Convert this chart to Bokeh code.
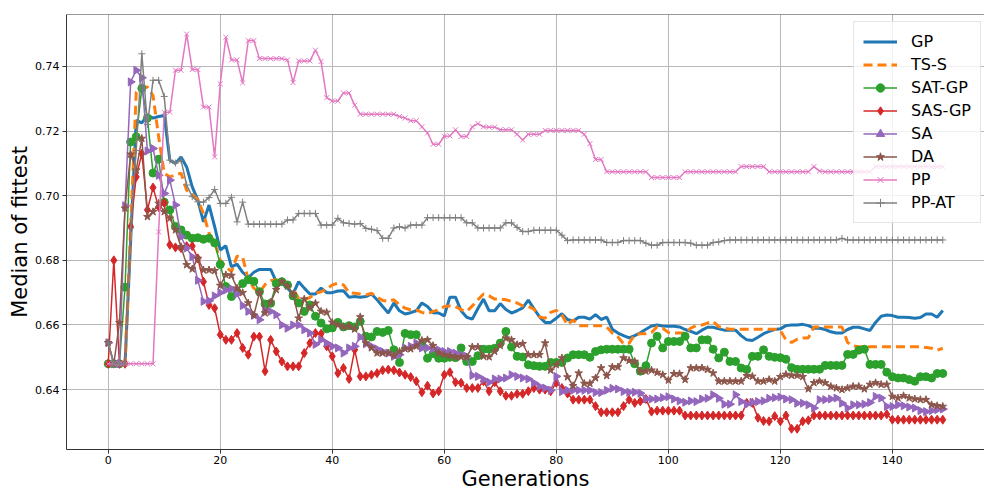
import math
from bokeh.plotting import figure
from bokeh.models import Legend, LegendItem, Span, FixedTicker, NumeralTickFormatter, Range1d
from bokeh.embed import file_html
from bokeh.resources import INLINE

generations = list(range(150))

gp = [0.648, 0.648, 0.648, 0.648, 0.686, 0.7233, 0.7225, 0.7249, 0.7240, 0.7245,
      0.7248, 0.7110, 0.7100, 0.7120, 0.7089, 0.7027, 0.6986, 0.6919, 0.6971, 0.6904,
      0.6832, 0.6845, 0.6780, 0.6788, 0.6763, 0.6746, 0.6763, 0.6772, 0.6772, 0.6772,
      0.6734, 0.6730, 0.6714, 0.6696, 0.6734, 0.6714, 0.6696, 0.6696, 0.6714, 0.6700,
      0.6700, 0.6705, 0.6706, 0.6686, 0.6688, 0.6686, 0.6688, 0.6696, 0.6678, 0.6657,
      0.6637, 0.6668, 0.6644, 0.6634, 0.6638, 0.6644, 0.6668, 0.6657, 0.6638, 0.6637,
      0.6628, 0.6686, 0.6686, 0.6644, 0.6624, 0.6618, 0.6651, 0.6680, 0.6644, 0.6644,
      0.6666, 0.6648, 0.6637, 0.6644, 0.6653, 0.6677, 0.6651, 0.6625, 0.6608, 0.6608,
      0.6621, 0.6635, 0.6617, 0.6612, 0.6624, 0.6624, 0.6618, 0.6632, 0.6617, 0.6624,
      0.6587, 0.6575, 0.6567, 0.6560, 0.6567, 0.6576, 0.6587, 0.6597, 0.6600, 0.6597,
      0.6596, 0.6596, 0.6594, 0.6586, 0.6580, 0.6573, 0.6584, 0.6593, 0.6593, 0.6588,
      0.6584, 0.6584, 0.6584, 0.6567, 0.6554, 0.6552, 0.6562, 0.6573, 0.6580, 0.6586,
      0.6588, 0.6598, 0.6600, 0.6600, 0.6602, 0.6598, 0.6590, 0.6590, 0.6586, 0.6579,
      0.6575, 0.6575, 0.6586, 0.6593, 0.6593, 0.6588, 0.6583, 0.6608, 0.6627, 0.6631,
      0.6629, 0.6624, 0.6624, 0.6623, 0.6621, 0.6623, 0.6634, 0.6634, 0.6624, 0.6645]

ts_s = [0.648, 0.648, 0.648, 0.648, 0.690, 0.7320, 0.7336, 0.7336, 0.7310, 0.7182,
        0.7069, 0.7058, 0.7064, 0.7070, 0.7017, 0.7005, 0.6988, 0.6945, 0.6884, 0.6855,
        0.6800, 0.6780, 0.6765, 0.6813, 0.6810, 0.6740, 0.6714, 0.6700, 0.6725, 0.6737,
        0.6740, 0.6734, 0.6726, 0.6712, 0.6683, 0.6678, 0.6685, 0.6698, 0.6703, 0.6710,
        0.6724, 0.6729, 0.6724, 0.6700, 0.6698, 0.6696, 0.6693, 0.6698, 0.6686, 0.6676,
        0.6673, 0.6678, 0.6663, 0.6652, 0.6647, 0.6647, 0.6639, 0.6635, 0.6642, 0.6647,
        0.6657, 0.6659, 0.6657, 0.6647, 0.6642, 0.6659, 0.6678, 0.6696, 0.6690, 0.6680,
        0.6680, 0.6678, 0.6673, 0.6668, 0.6659, 0.6657, 0.6649, 0.6625, 0.6621, 0.6639,
        0.6645, 0.6631, 0.6600, 0.6616, 0.6598, 0.6598, 0.6598, 0.6598, 0.6598, 0.6594,
        0.6575, 0.6563, 0.6542, 0.6544, 0.6570, 0.6573, 0.6573, 0.6577, 0.6595, 0.6590,
        0.6577, 0.6575, 0.6575, 0.6575, 0.6590, 0.6598, 0.6600, 0.6606, 0.6611, 0.6595,
        0.6590, 0.6587, 0.6587, 0.6587, 0.6587, 0.6587, 0.6587, 0.6587, 0.6587, 0.6587,
        0.6583, 0.6554, 0.6546, 0.6556, 0.6560, 0.6560, 0.6594, 0.6594, 0.6594, 0.6594,
        0.6594, 0.6594, 0.6546, 0.6535, 0.6533, 0.6533, 0.6533, 0.6533, 0.6533, 0.6533,
        0.6533, 0.6533, 0.6533, 0.6533, 0.6533, 0.6533, 0.6530, 0.6528, 0.6522, 0.6528]

sat_gp = [0.648, 0.648, 0.648, 0.6717, 0.7166, 0.7182, 0.7332, 0.7240, 0.7070, 0.7113,
          0.6980, 0.6956, 0.6905, 0.6894, 0.6878, 0.6868, 0.6870, 0.6865, 0.6868, 0.6854,
          0.6787, 0.6719, 0.6688, 0.6703, 0.6728, 0.6740, 0.6735, 0.6703, 0.6665, 0.6667,
          0.6728, 0.6734, 0.6724, 0.6690, 0.6668, 0.6642, 0.6662, 0.6627, 0.6606, 0.6588,
          0.6591, 0.6608, 0.6594, 0.6598, 0.6594, 0.6611, 0.6565, 0.6563, 0.6580, 0.6577,
          0.6583, 0.6523, 0.6484, 0.6574, 0.6570, 0.6570, 0.6539, 0.6497, 0.6511, 0.6497,
          0.6497, 0.6500, 0.6499, 0.6529, 0.6487, 0.6487, 0.6505, 0.6525, 0.6525, 0.6528,
          0.6544, 0.6580, 0.6532, 0.6503, 0.6501, 0.6477, 0.6474, 0.6472, 0.6472, 0.6484,
          0.6484, 0.6484, 0.6498, 0.6508, 0.6508, 0.6508, 0.6500, 0.6518, 0.6523, 0.6525,
          0.6525, 0.6525, 0.6525, 0.6525, 0.6480, 0.6457, 0.6474, 0.6544, 0.6565, 0.6529,
          0.6549, 0.6549, 0.6549, 0.6565, 0.6529, 0.6529, 0.6554, 0.6554, 0.6525, 0.6498,
          0.6516, 0.6487, 0.6487, 0.6467, 0.6462, 0.6503, 0.6503, 0.6523, 0.6503, 0.6500,
          0.6499, 0.6494, 0.6468, 0.6463, 0.6463, 0.6463, 0.6463, 0.6463, 0.6475, 0.6475,
          0.6475, 0.6475, 0.6509, 0.6509, 0.6522, 0.6525, 0.6478, 0.6478, 0.6478, 0.6454,
          0.6440, 0.6436, 0.6436, 0.6431, 0.6426, 0.6440, 0.6440, 0.6436, 0.6450, 0.6450]

sas_gp = [0.648, 0.680, 0.648, 0.648, 0.6904, 0.7058, 0.7130, 0.6956, 0.7025, 0.6965,
          0.6978, 0.6848, 0.6840, 0.6838, 0.6844, 0.6844, 0.6806, 0.6734, 0.6662, 0.6652,
          0.6570, 0.6554, 0.6554, 0.6575, 0.6529, 0.6508, 0.6564, 0.6564, 0.6457, 0.6554,
          0.6518, 0.6487, 0.6472, 0.6472, 0.6472, 0.6513, 0.6544, 0.6575, 0.6573, 0.6534,
          0.6503, 0.6451, 0.6467, 0.6433, 0.6523, 0.6441, 0.6441, 0.6446, 0.6451, 0.6460,
          0.6462, 0.6460, 0.6453, 0.6446, 0.6439, 0.6426, 0.6392, 0.6412, 0.6388, 0.6395,
          0.6446, 0.6454, 0.6423, 0.6421, 0.6405, 0.6405, 0.6405, 0.6426, 0.6395, 0.6423,
          0.6395, 0.6381, 0.6381, 0.6387, 0.6387, 0.6395, 0.6405, 0.6400, 0.6400, 0.6395,
          0.6421, 0.6405, 0.6388, 0.6369, 0.6369, 0.6369, 0.6369, 0.6349, 0.6330, 0.6330,
          0.6330, 0.6330, 0.6349, 0.6369, 0.6359, 0.6364, 0.6371, 0.6332, 0.6335, 0.6335,
          0.6335, 0.6335, 0.6335, 0.6320, 0.6320, 0.6320, 0.6320, 0.6320, 0.6320, 0.6320,
          0.6320, 0.6320, 0.6320, 0.6320, 0.6359, 0.6359, 0.6313, 0.6303, 0.6302, 0.6318,
          0.6302, 0.6320, 0.6279, 0.6279, 0.6302, 0.6305, 0.6320, 0.6320, 0.6320, 0.6320,
          0.6320, 0.6320, 0.6320, 0.6320, 0.6320, 0.6320, 0.6320, 0.6320, 0.6320, 0.6324,
          0.6307, 0.6307, 0.6307, 0.6307, 0.6307, 0.6307, 0.6307, 0.6307, 0.6307, 0.6307]

sa = [0.6545, 0.648, 0.648, 0.6969, 0.7352, 0.7388, 0.7365, 0.7138, 0.7146, 0.7063,
      0.7007, 0.7048, 0.6971, 0.6873, 0.6838, 0.6811, 0.6738, 0.6673, 0.6675, 0.6690,
      0.6700, 0.6708, 0.6712, 0.6696, 0.6660, 0.6642, 0.6630, 0.6616, 0.6646, 0.6642,
      0.6632, 0.6600, 0.6590, 0.6600, 0.6600, 0.6585, 0.6575, 0.6540, 0.6554, 0.6544,
      0.6534, 0.6529, 0.6513, 0.6529, 0.6534, 0.6563, 0.6542, 0.6534, 0.6526, 0.6518,
      0.6513, 0.6503, 0.6508, 0.6529, 0.6534, 0.6544, 0.6529, 0.6529, 0.6526, 0.6523,
      0.6518, 0.6518, 0.6513, 0.6508, 0.6503, 0.6444, 0.6441, 0.6431, 0.6423, 0.6433,
      0.6433, 0.6436, 0.6446, 0.6441, 0.6436, 0.6433, 0.6421, 0.6410, 0.6405, 0.6398,
      0.6441, 0.6394, 0.6398, 0.6398, 0.6398, 0.6398, 0.6398, 0.6391, 0.6391, 0.6398,
      0.6404, 0.6402, 0.6394, 0.6392, 0.6392, 0.6389, 0.6371, 0.6371, 0.6371, 0.6375,
      0.6378, 0.6371, 0.6365, 0.6361, 0.6365, 0.6363, 0.6371, 0.6373, 0.6384, 0.6373,
      0.6355, 0.6355, 0.6384, 0.6363, 0.6355, 0.6361, 0.6363, 0.6365, 0.6373, 0.6375,
      0.6377, 0.6371, 0.6369, 0.6358, 0.6358, 0.6353, 0.6343, 0.6369, 0.6369, 0.6371,
      0.6374, 0.6358, 0.6343, 0.6353, 0.6353, 0.6355, 0.6360, 0.6379, 0.6374, 0.6348,
      0.6348, 0.6353, 0.6350, 0.6346, 0.6343, 0.6335, 0.6332, 0.6335, 0.6338, 0.6340]

da = [0.6545, 0.648, 0.6607, 0.6961, 0.7128, 0.7079, 0.7177, 0.6935, 0.6950, 0.6976,
      0.6950, 0.6930, 0.6894, 0.6842, 0.6786, 0.6773, 0.6806, 0.6770, 0.6770, 0.6768,
      0.6722, 0.6755, 0.6753, 0.6714, 0.6700, 0.6668, 0.6630, 0.6700, 0.6637, 0.6670,
      0.6709, 0.6734, 0.6720, 0.6695, 0.6621, 0.6680, 0.6652, 0.6667, 0.6642, 0.6639,
      0.6608, 0.6600, 0.6594, 0.6596, 0.6587, 0.6625, 0.6544, 0.6529, 0.6513, 0.6513,
      0.6513, 0.6505, 0.6518, 0.6526, 0.6526, 0.6534, 0.6552, 0.6554, 0.6536, 0.6513,
      0.6508, 0.6505, 0.6501, 0.6501, 0.6501, 0.6532, 0.6532, 0.6503, 0.6501, 0.6518,
      0.6536, 0.6559, 0.6554, 0.6539, 0.6542, 0.6508, 0.6508, 0.6508, 0.6544, 0.6460,
      0.6477, 0.6498, 0.6439, 0.6412, 0.6451, 0.6419, 0.6419, 0.6436, 0.6467, 0.6443,
      0.6470, 0.6470, 0.6498, 0.6490, 0.6487, 0.6457, 0.6457, 0.6460, 0.6453, 0.6446,
      0.6429, 0.6449, 0.6449, 0.6431, 0.6467, 0.6467, 0.6467, 0.6462, 0.6451, 0.6426,
      0.6426, 0.6426, 0.6426, 0.6426, 0.6443, 0.6441, 0.6426, 0.6426, 0.6431, 0.6426,
      0.6440, 0.6447, 0.6444, 0.6444, 0.6440, 0.6402, 0.6421, 0.6426, 0.6421, 0.6410,
      0.6405, 0.6400, 0.6405, 0.6410, 0.6410, 0.6402, 0.6416, 0.6421, 0.6416, 0.6416,
      0.6379, 0.6374, 0.6381, 0.6374, 0.6371, 0.6369, 0.6369, 0.6353, 0.6350, 0.6348]

pp = [0.648, 0.648, 0.648, 0.648, 0.648, 0.648, 0.648, 0.648, 0.648, 0.6888,
      0.7258, 0.7258, 0.7388, 0.7388, 0.7500, 0.7390, 0.7390, 0.7274, 0.7274, 0.7120,
      0.7346, 0.7490, 0.7420, 0.7420, 0.7349, 0.7480, 0.7480, 0.7424, 0.7424, 0.7424,
      0.7424, 0.7424, 0.7420, 0.7350, 0.7417, 0.7417, 0.7417, 0.7450, 0.7415, 0.7303,
      0.7293, 0.7293, 0.7318, 0.7318, 0.7280, 0.7252, 0.7252, 0.7252, 0.7252, 0.7252,
      0.7252, 0.7252, 0.7245, 0.7240, 0.7232, 0.7232, 0.7213, 0.7194, 0.7159, 0.7159,
      0.7184, 0.7185, 0.7204, 0.7183, 0.7183, 0.7213, 0.7223, 0.7213, 0.7212, 0.7212,
      0.7204, 0.7204, 0.7204, 0.7190, 0.7172, 0.7190, 0.7190, 0.7190, 0.7202, 0.7202,
      0.7202, 0.7202, 0.7202, 0.7202, 0.7202, 0.7190, 0.7161, 0.7112, 0.7112, 0.7074,
      0.7074, 0.7074, 0.7074, 0.7074, 0.7074, 0.7074, 0.7074, 0.7056, 0.7056, 0.7056,
      0.7056, 0.7056, 0.7056, 0.7074, 0.7074, 0.7074, 0.7074, 0.7074, 0.7074, 0.7074,
      0.7074, 0.7074, 0.7074, 0.7090, 0.7090, 0.7090, 0.7090, 0.7090, 0.7074, 0.7074,
      0.7074, 0.7074, 0.7074, 0.7074, 0.7074, 0.7074, 0.7090, 0.7076, 0.7074, 0.7074,
      0.7074, 0.7074, 0.7074, 0.7074, 0.7074, 0.7074, 0.7074, 0.7090, 0.7090, 0.7090,
      0.7090, 0.7090, 0.7090, 0.7090, 0.7090, 0.7090, 0.7090, 0.7090, 0.7090, 0.7090]

pp_at = [0.6545, 0.648, 0.648, 0.648, 0.690, 0.714, 0.7439, 0.7220, 0.7357, 0.7357,
         0.7307, 0.7110, 0.7101, 0.7110, 0.7033, 0.6997, 0.6981, 0.6980, 0.6994, 0.7019,
         0.6976, 0.6976, 0.6995, 0.6919, 0.6980, 0.6912, 0.6912, 0.6912, 0.6912, 0.6912,
         0.6912, 0.6912, 0.6925, 0.6925, 0.6945, 0.6945, 0.6945, 0.6945, 0.6909, 0.6909,
         0.6909, 0.6930, 0.6916, 0.6914, 0.6912, 0.6914, 0.6899, 0.6896, 0.6892, 0.6868,
         0.6868, 0.6900, 0.6904, 0.6900, 0.6909, 0.6909, 0.6909, 0.6932, 0.6932, 0.6932,
         0.6932, 0.6932, 0.6932, 0.6932, 0.6916, 0.6916, 0.6900, 0.6900, 0.6900, 0.6900,
         0.6900, 0.6916, 0.6916, 0.6902, 0.6889, 0.6889, 0.6893, 0.6893, 0.6893, 0.6893,
         0.6893, 0.6878, 0.6861, 0.6863, 0.6863, 0.6863, 0.6863, 0.6863, 0.6863, 0.6855,
         0.6855, 0.6855, 0.6861, 0.6861, 0.6861, 0.6861, 0.6853, 0.6847, 0.6847, 0.6855,
         0.6855, 0.6855, 0.6855, 0.6855, 0.6853, 0.6847, 0.6847, 0.6847, 0.6855, 0.6857,
         0.6861, 0.6863, 0.6863, 0.6863, 0.6863, 0.6863, 0.6863, 0.6863, 0.6863, 0.6863,
         0.6863, 0.6863, 0.6863, 0.6863, 0.6863, 0.6863, 0.6863, 0.6863, 0.6863, 0.6863,
         0.6863, 0.6868, 0.6863, 0.6863, 0.6863, 0.6863, 0.6863, 0.6863, 0.6863, 0.6863,
         0.6863, 0.6863, 0.6863, 0.6863, 0.6863, 0.6863, 0.6863, 0.6863, 0.6863, 0.6863]

series_labels = ["GP", "TS-S", "SAT-GP", "SAS-GP", "SA", "DA", "PP", "PP-AT"]
x_ticks = [0, 20, 40, 60, 80, 100, 120, 140]
y_ticks = [0.64, 0.66, 0.68, 0.70, 0.72, 0.74]

FONT = "DejaVu Sans"
Y_TOP = 0.75605
Y_BOTTOM = 0.62148

p = figure(width=984, height=493, output_backend="svg", toolbar_location=None,
           x_range=Range1d(-7.45, 156.45), y_range=Range1d(Y_BOTTOM, Y_TOP),
           min_border_left=66, min_border_right=0, min_border_top=14, min_border_bottom=43,
           background_fill_color="white", border_fill_color="white")
p.outline_line_color = None

for ax in (p.xaxis[0], p.yaxis[0]):
    ax.axis_line_color = "#333333"
    ax.axis_line_width = 1
    ax.major_tick_line_color = "#333333"
    ax.major_tick_out = 4
    ax.major_tick_in = 0
    ax.minor_tick_out = 0
    ax.minor_tick_in = 0
    ax.major_label_text_font = FONT
    ax.major_label_text_font_size = "11px"
    ax.major_label_text_color = "black"
    ax.major_label_standoff = 2
    ax.axis_label_text_font = FONT
    ax.axis_label_text_font_size = "21px"
    ax.axis_label_text_font_style = "normal"
    ax.axis_label_text_color = "black"
    ax.axis_label_standoff = 0

p.yaxis.major_label_standoff = 3
p.yaxis.axis_label_standoff = 0
p.xaxis.ticker = FixedTicker(ticks=x_ticks)
p.yaxis.ticker = FixedTicker(ticks=y_ticks)
p.yaxis.formatter = NumeralTickFormatter(format="0.00")
p.xaxis.axis_label = "Generations"
p.yaxis.axis_label = "Median of fittest"

p.xgrid.ticker = FixedTicker(ticks=x_ticks)
p.ygrid.ticker = FixedTicker(ticks=y_ticks)
p.grid.grid_line_color = "#b8b8b8"
p.grid.grid_line_width = 1

p.add_layout(Span(location=Y_TOP, dimension="width", line_color="#333333", line_width=1))

items = []
r = p.line(generations, gp, line_color="#1f77b4", line_width=3)
items.append(LegendItem(label=series_labels[0], renderers=[r]))

r = p.line(generations, ts_s, line_color="#ff7f0e", line_width=3, line_dash="9 5")
items.append(LegendItem(label=series_labels[1], renderers=[r]))

r1 = p.line(generations, sat_gp, line_color="#2ca02c", line_width=1.5)
r2 = p.scatter(generations, sat_gp, marker="circle", size=8, fill_color="#2ca02c", line_color="#2ca02c")
items.append(LegendItem(label=series_labels[2], renderers=[r1, r2]))

r1 = p.line(generations, sas_gp, line_color="#d62728", line_width=1.5)
r2 = p.scatter(generations, sas_gp, marker="diamond", size=9, fill_color="#d62728", line_color="#d62728")
items.append(LegendItem(label=series_labels[3], renderers=[r1, r2]))

r1 = p.line(generations, sa, line_color="#9467bd", line_width=1.5)
r2 = p.scatter(generations, sa, marker="triangle", size=8, angle=-math.pi / 2,
               fill_color="#9467bd", line_color="#9467bd")
items.append(LegendItem(label=series_labels[4], renderers=[r1, r2]))

r1 = p.line(generations, da, line_color="#8c564b", line_width=1.5)
r2 = p.scatter(generations, da, marker="star", size=8, fill_color="#8c564b", line_color="#8c564b")
items.append(LegendItem(label=series_labels[5], renderers=[r1, r2]))

r1 = p.line(generations, pp, line_color="#e377c2", line_width=1.5)
r2 = p.scatter(generations, pp, marker="x", size=7, line_color="#e377c2", line_width=1)
items.append(LegendItem(label=series_labels[6], renderers=[r1, r2]))

r1 = p.line(generations, pp_at, line_color="#7f7f7f", line_width=1.5)
r2 = p.scatter(generations, pp_at, marker="cross", size=7, line_color="#7f7f7f", line_width=1)
items.append(LegendItem(label=series_labels[7], renderers=[r1, r2]))

legend = Legend(items=items, location=(787, 226))
legend.label_text_font = FONT
legend.label_text_font_size = "16px"
legend.label_text_color = "black"
legend.glyph_width = 34
legend.glyph_height = 21
legend.label_height = 21
legend.label_standoff = 14
legend.spacing = 2
legend.padding = 9
legend.margin = 0
legend.border_line_color = "#cccccc"
legend.border_line_width = 1
legend.background_fill_color = "white"
legend.background_fill_alpha = 0.8
p.add_layout(legend)

open("out.html", "w").write(file_html(p, INLINE))
